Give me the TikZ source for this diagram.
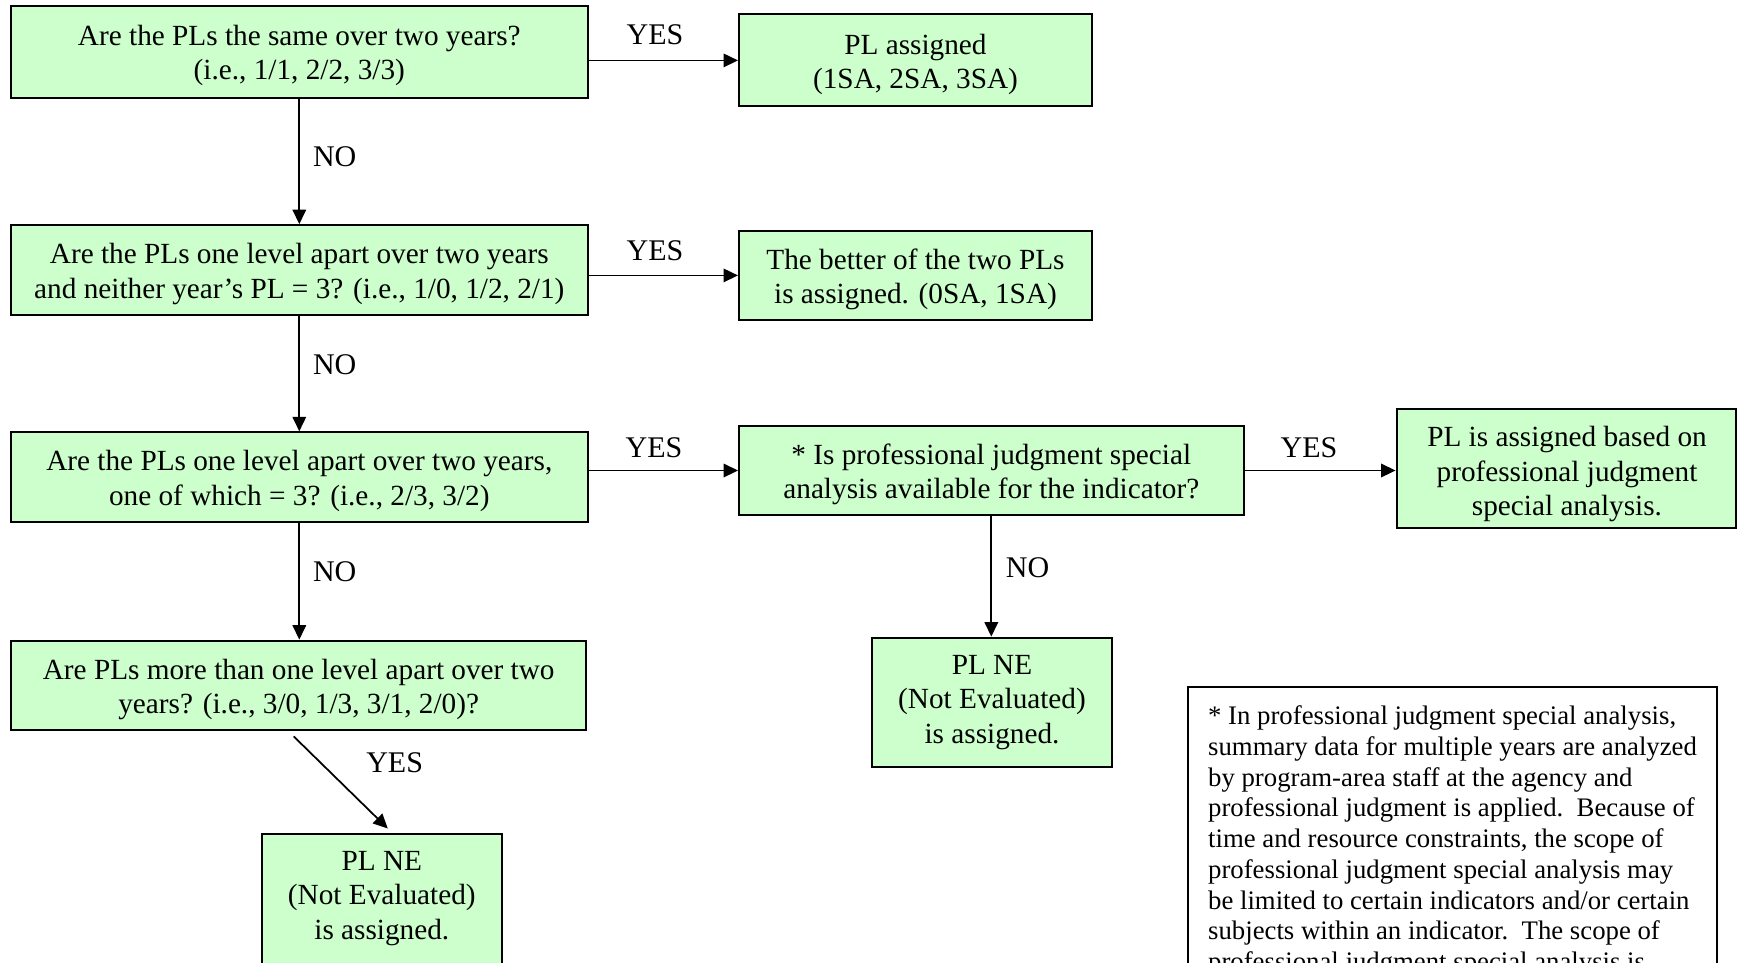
\documentclass[tikz,border=0pt]{standalone}
\usepackage{fontspec}
\setmainfont{Liberation Serif}
\usetikzlibrary{arrows.meta,calc}
\definecolor{boxgreen}{HTML}{CCFFCC}
\newcommand{\firstline}{\rule{0pt}{11.2pt}}
\tikzset{
  box/.style={draw=black, fill=boxgreen, line width=0.8pt, align=center, inner sep=0pt,
    font=\fontsize{11.7}{13.8}\selectfont},
  txt/.style={align=center, inner sep=0pt, font=\fontsize{11.7}{13.8}\selectfont},
  lbl/.style={inner sep=0pt, font=\fontsize{12}{13.8}\selectfont},
  arr/.style={line width=0.7pt, -{Triangle[length=5.8pt,width=5.4pt]}},
  notebox/.style={draw=black, fill=white, line width=0.8pt, align=left, anchor=north west,
    inner xsep=8pt, inner ysep=7.5pt, minimum width=211.6pt,
    font=\fontsize{10.7}{12.3}\selectfont}
}
\begin{document}
\begin{tikzpicture}[x=0.4pt,y=-0.4pt]
\useasboundingbox (0,0) rectangle (1738,962);
\fill[white] (0,0) rectangle (1738,962);

% left column
\node[box, minimum width=230.6pt, minimum height=36.8pt] (b1) at (299.3,51.5)
  {\firstline Are the PLs the same over two years?\\(i.e., 1/1, 2/2, 3/3)};
\node[box, minimum width=230.6pt, minimum height=35.9pt] (b2) at (299.3,270)
  {\firstline Are the PLs one level apart over two years\\and neither year’s PL = 3? (i.e., 1/0, 1/2, 2/1)};
\node[box, minimum width=230.6pt, minimum height=35.9pt] (b3) at (299.3,477.2)
  {\firstline Are the PLs one level apart over two years,\\one of which = 3? (i.e., 2/3, 3/2)};
\node[box, minimum width=230.1pt, minimum height=35.9pt] (b4) at (298.7,685.5)
  {\firstline Are PLs more than one level apart over two\\years? (i.e., 3/0, 1/3, 3/1, 2/0)?};
\node[box, minimum width=96.2pt, minimum height=52pt] (b4b) at (381.8,898.5)
  {PL NE\\(Not Evaluated)\\is assigned.};

% right columns
\node[box, minimum width=141.2pt, minimum height=36.8pt] (b1r) at (915.5,60.4)
  {\firstline PL assigned\\(1SA, 2SA, 3SA)};
\node[box, minimum width=141.2pt, minimum height=35.9pt] (b2r) at (915.5,275.4)
  {\firstline The better of the two PLs\\is assigned. (0SA, 1SA)};
\node[box, minimum width=201.8pt, minimum height=35.9pt] (b3m) at (991.3,470.5)
  {\firstline * Is professional judgment special\\analysis available for the indicator?};
\node[box, minimum width=95.8pt, minimum height=51.9pt] (b3b) at (992,702.5)
  {PL NE\\(Not Evaluated)\\is assigned.};
\node[box, minimum width=135.8pt, minimum height=47.6pt] (b3r) at (1566.3,468.5) {};
\begin{scope}
  \clip (b3r.south west) rectangle (b3r.north east);
  \node[txt] (b3rt) at (1567,474)
    {PL is assigned based on\\professional judgment\\special analysis.};
\end{scope}

% note
\node[notebox] (note) at (1187,686)
  {* In professional judgment special analysis,\\
   summary data for multiple years are analyzed\\
   by program-area staff at the agency and\\
   professional judgment is applied.\ \ Because of\\
   time and resource constraints, the scope of\\
   professional judgment special analysis may\\
   be limited to certain indicators and/or certain\\
   subjects within an indicator.\ \ The scope of\\
   professional judgment special analysis is};

% connectors
\draw[arr] (b1.east |- b1r.west) -- (b1r.west);
\draw[arr] (b2.east |- b2r.west) -- (b2r.west);
\draw[arr] (b3.east |- b3m.west) -- (b3m.west);
\draw[arr] (b3m.east) -- (b3m.east -| b3r.west);
\draw[arr] (b1.south) -- (b2.north);
\draw[arr] (b2.south) -- (b2.south |- b3.north);
\draw[arr] (b3.south) -- (b3.south |- b4.north);
\draw[arr] (b3m.south) -- (b3m.south |- b3b.north);
\draw[arr] ($(b4.south)+(-5,5)$) -- ($(b4b.north)+(6,-4)$);

% labels
\node[lbl] (y1) at (655,34.4) {YES};
\node[lbl] (y2) at (655,250.5) {YES};
\node[lbl] (y3) at (654,447.8) {YES};
\node[lbl] (y4) at (1309,447.8) {YES};
\node[lbl] (y5) at (394.6,762.6) {YES};
\node[lbl] (n1) at (334.7,156.3) {NO};
\node[lbl] (n2) at (334.7,364.7) {NO};
\node[lbl] (n3) at (334.7,572) {NO};
\node[lbl] (n4) at (1027.5,567.5) {NO};
\end{tikzpicture}
\end{document}
